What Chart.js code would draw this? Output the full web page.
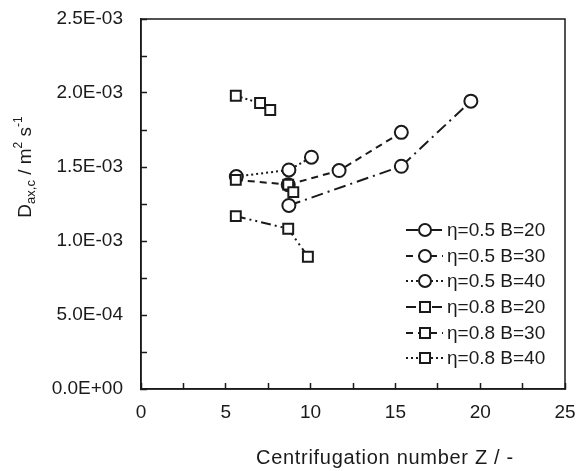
<!DOCTYPE html>
<html>
<head>
<meta charset="utf-8">
<script src="https://cdn.jsdelivr.net/npm/chart.js@4/dist/chart.umd.min.js"></script>
<style>
  html, body { margin: 0; padding: 0; background: #fff; }
  #wrap { width: 584px; height: 471px; }
</style>
</head>
<body>
<div id="wrap"><canvas id="chart" width="584" height="471"></canvas></div>
<script>
// Z values and D_ax,c values
const zEta05B20 = [8.72, 15.35, 19.45];
const dEta05B20 = [1.24e-3, 1.505e-3, 1.945e-3];
const zEta05B30 = [8.68, 11.68, 15.35];
const dEta05B30 = [1.38e-3, 1.476e-3, 1.734e-3];
const zEta05B40 = [5.62, 8.72, 10.05];
const dEta05B40 = [1.435e-3, 1.48e-3, 1.566e-3];
const zEta08B20 = [5.59, 8.68, 9.84];
const dEta08B20 = [1.168e-3, 1.083e-3, 0.894e-3];
const zEta08B30 = [5.59, 8.68, 8.98];
const dEta08B30 = [1.413e-3, 1.381e-3, 1.330e-3];
const zEta08B40 = [5.59, 7.02, 7.62];
const dEta08B40 = [1.981e-3, 1.932e-3, 1.885e-3];

const seriesLabels = ['η=0.5 B=20', 'η=0.5 B=30', 'η=0.5 B=40', 'η=0.8 B=20', 'η=0.8 B=30', 'η=0.8 B=40'];
const xTicks = [0, 5, 10, 15, 20, 25];
const yTicks = [0, 5e-4, 1e-3, 1.5e-3, 2e-3, 2.5e-3];

const INK = '#1a1a1a';
const FONT = '"Liberation Sans", Arial, sans-serif';

const dashDot = [12, 5, 2, 5];
const dashDotDot = [10, 4, 2, 4, 2, 4];
const dashed = [7, 5];
const dotted = [2, 3];

const pts = (xs, ys) => xs.map((x, i) => ({ x, y: ys[i] }));

function series(label, xs, ys, shape, dash, order) {
  return {
    label,
    data: pts(xs, ys),
    showLine: true,
    borderColor: INK,
    borderWidth: 2,
    borderDash: dash,
    pointStyle: shape,
    pointRadius: shape === 'circle' ? 6.5 : 7,
    pointBorderWidth: 2,
    pointBorderColor: INK,
    pointBackgroundColor: '#fff',
    order
  };
}

const datasets = [
  series(seriesLabels[0], zEta05B20, dEta05B20, 'circle', dashDot, 1),
  series(seriesLabels[1], zEta05B30, dEta05B30, 'circle', dashed, 1),
  series(seriesLabels[2], zEta05B40, dEta05B40, 'circle', dotted, 1),
  series(seriesLabels[3], zEta08B20, dEta08B20, 'rect', dashDotDot, 0),
  series(seriesLabels[4], zEta08B30, dEta08B30, 'rect', dashed, 0),
  series(seriesLabels[5], zEta08B40, dEta08B40, 'rect', dotted, 0)
];

function sciLabel(v) {
  const [m, e] = v.toExponential(1).toUpperCase().split('E');
  const n = parseInt(e, 10);
  return m + 'E' + (n < 0 ? '-' : '+') + String(Math.abs(n)).padStart(2, '0');
}

function noEdgePadding(s) {
  s.paddingTop = 0;
  s.paddingBottom = 0;
  s.paddingLeft = 0;
  s.paddingRight = 0;
}

// frame, legend and axis titles
const decor = {
  id: 'decor',
  afterDraw(chart) {
    const { ctx, chartArea: a } = chart;
    ctx.save();
    ctx.strokeStyle = INK;
    ctx.lineWidth = 1.5;
    ctx.setLineDash([]);
    ctx.strokeRect(a.left, a.top, a.right - a.left, a.bottom - a.top);

    // legend
    const rowY = [230, 256, 281, 307, 333, 358];
    chart.data.datasets.forEach((ds, i) => {
      const y = rowY[i];
      ctx.strokeStyle = INK;
      ctx.lineWidth = 2;
      ctx.setLineDash(ds.borderDash);
      ctx.beginPath();
      ctx.moveTo(406, y);
      ctx.lineTo(443, y);
      ctx.stroke();
      ctx.setLineDash([]);
      ctx.fillStyle = '#fff';
      ctx.beginPath();
      if (ds.pointStyle === 'circle') {
        ctx.arc(425, y, 6, 0, Math.PI * 2);
      } else {
        ctx.rect(420, y - 5, 10, 10);
      }
      ctx.fill();
      ctx.stroke();
      ctx.fillStyle = INK;
      ctx.font = '19px ' + FONT;
      ctx.textAlign = 'left';
      ctx.textBaseline = 'middle';
      ctx.fillText(ds.label, 447, y + 1);
    });

    // x title
    ctx.fillStyle = INK;
    ctx.font = '20px ' + FONT;
    ctx.letterSpacing = '0.7px';
    ctx.textAlign = 'center';
    ctx.textBaseline = 'middle';
    ctx.fillText('Centrifugation number Z / -', 385, 458);
    ctx.letterSpacing = '0px';

    // y title with sub/superscripts
    ctx.translate(26, 167);
    ctx.rotate(-Math.PI / 2);
    const parts = [
      ['D', 19, 0], ['ax,c', 13, 5], [' / m', 19, 0], ['2', 12, -7], [' s', 19, 0], ['-1', 12, -7]
    ];
    let total = 0;
    parts.forEach(p => { ctx.font = p[1] + 'px ' + FONT; total += ctx.measureText(p[0]).width; });
    let x = -total / 2;
    ctx.textAlign = 'left';
    parts.forEach(p => {
      ctx.font = p[1] + 'px ' + FONT;
      ctx.fillText(p[0], x, p[2]);
      x += ctx.measureText(p[0]).width;
    });
    ctx.restore();
  }
};

new Chart(document.getElementById('chart'), {
  type: 'scatter',
  data: { datasets },
  options: {
    responsive: false,
    animation: false,
    devicePixelRatio: 1,
    layout: { padding: { top: 19, right: 19, left: 0, bottom: 0 } },
    plugins: { legend: { display: false }, tooltip: { enabled: false } },
    scales: {
      x: {
        type: 'linear',
        min: xTicks[0],
        max: xTicks[xTicks.length - 1],
        afterFit: s => { s.height = 82; noEdgePadding(s); },
        ticks: {
          stepSize: 2.5,
          color: INK,
          font: { family: FONT, size: 19 },
          padding: 18,
          maxRotation: 0,
          callback: (v, i) => (i % 2 === 0 ? String(xTicks[i / 2]) : '')
        },
        grid: { drawOnChartArea: false, drawTicks: true, tickLength: -6, tickColor: INK, tickWidth: 1.5 },
        border: { display: true, color: INK, width: 1.5 }
      },
      y: {
        type: 'linear',
        min: yTicks[0],
        max: yTicks[yTicks.length - 1],
        afterFit: s => { s.width = 141; noEdgePadding(s); },
        ticks: {
          stepSize: 2.5e-4,
          color: INK,
          font: { family: FONT, size: 19 },
          padding: 24,
          callback: (v, i) => (i % 2 === 0 ? sciLabel(yTicks[i / 2]) : '')
        },
        grid: { drawOnChartArea: false, drawTicks: true, tickLength: -6, tickColor: INK, tickWidth: 1.5 },
        border: { display: true, color: INK, width: 1.5 }
      }
    }
  },
  plugins: [decor]
});
</script>
</body>
</html>
